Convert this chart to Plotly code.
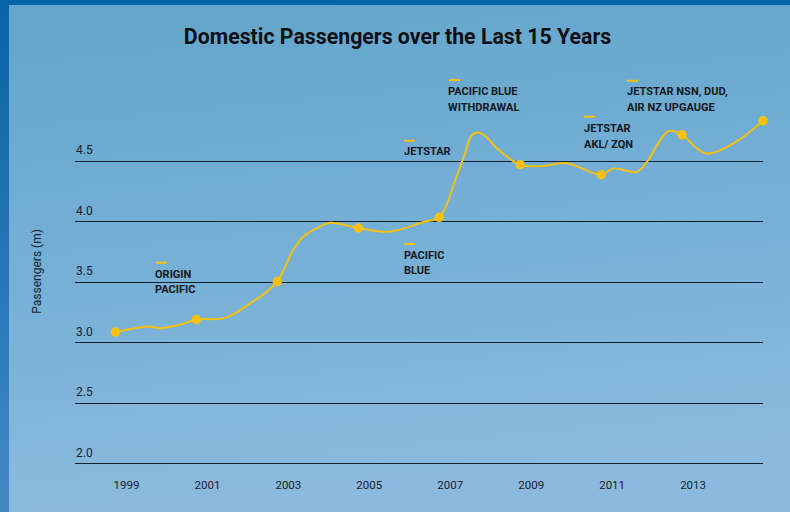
import base64
import plotly.graph_objects as go

# ---------------- data ----------------
marker_years = [1999, 2001, 2003, 2005, 2007, 2009, 2011, 2013, 2015]
marker_values = [3.09, 3.193, 3.507, 3.95, 4.038, 4.473, 4.39, 4.72, 4.836]

curve_years = [1999.0, 1999.85, 2000.1, 2000.59, 2001.0, 2001.71, 2002.32, 2002.74,
               2003.0, 2003.23, 2003.39, 2003.64, 2003.97, 2004.3, 2005.0, 2005.78,
               2006.61, 2007.0, 2007.43, 2007.64, 2007.8, 2007.97, 2008.17, 2008.42,
               2009.0, 2009.57, 2010.15, 2011.0, 2011.3, 2011.88, 2012.14, 2012.66,
               2013.0, 2013.57, 2014.27, 2015.0]
curve_values = [3.09, 3.135, 3.122, 3.15, 3.193, 3.207, 3.325, 3.424,
                3.507, 3.658, 3.768, 3.878, 3.947, 3.993, 3.95, 3.92,
                4.0, 4.038, 4.377, 4.57, 4.715, 4.74, 4.70, 4.61,
                4.473, 4.463, 4.486, 4.39, 4.442, 4.414, 4.5, 4.75,
                4.72, 4.567, 4.649, 4.836]

x_tick_years = [1999, 2001, 2003, 2005, 2007, 2009, 2011, 2013]
x_tick_labels = ["1999", "2001", "2003", "2005", "2007", "2009", "2011", "2013"]
y_ticks = [2.0, 2.5, 3.0, 3.5, 4.0, 4.5]
y_tick_labels = ["2.0", "2.5", "3.0", "3.5", "4.0", "4.5"]

event_texts = ["ORIGIN<br>PACIFIC", "PACIFIC<br>BLUE", "JETSTAR",
               "PACIFIC BLUE<br>WITHDRAWAL", "JETSTAR<br>AKL/ ZQN",
               "JETSTAR NSN, DUD,<br>AIR NZ UPGAUGE"]
event_x = [2000.0, 2006.14, 2006.13, 2007.24, 2010.58, 2011.64]
event_y = [3.628, 3.785, 4.647, 5.140, 4.832, 5.140]
event_dash_y = [3.663, 3.818, 4.671, 5.173, 4.870, 5.167]

# ---------------- style ----------------
YELLOW = "#f8c10e"
FONT = "Roboto, Liberation Sans Narrow, Arial Narrow, sans-serif"
W, H = 790, 512
L, R, T, B = 75, 27, 71, 42
PW, PH = W - L - R, H - T - B
Y_LO = 1.95
Y_HI = Y_LO + PH / 121.0
LINE_GAP = 15.5

svg = f"""<svg xmlns='http://www.w3.org/2000/svg' width='{W}' height='{H}' viewBox='0 0 {W} {H}' preserveAspectRatio='none'>
<defs>
<linearGradient id='p' x1='0' y1='0' x2='0.15' y2='1'>
<stop offset='0' stop-color='#64a5cc'/><stop offset='0.5' stop-color='#74afd6'/><stop offset='1' stop-color='#8bbade'/></linearGradient>
<linearGradient id='s' x1='0' y1='0' x2='0' y2='1'>
<stop offset='0' stop-color='#0863a6'/><stop offset='1' stop-color='#4189c5'/></linearGradient>
</defs>
<rect x='0' y='0' width='{W}' height='{H}' fill='url(#s)'/>
<rect x='0' y='0' width='{W}' height='5' fill='#0466a8'/>
<rect x='9' y='5' width='{W-9}' height='{H-5}' fill='url(#p)'/>
</svg>"""
src = "data:image/svg+xml;base64," + base64.b64encode(svg.encode()).decode()

fig = go.Figure()
fig.add_trace(go.Scatter(x=curve_years, y=curve_values, mode="lines",
                         line=dict(color=YELLOW, width=2, shape="spline", smoothing=1.0),
                         hoverinfo="skip", cliponaxis=False, showlegend=False))
fig.add_trace(go.Scatter(x=marker_years, y=marker_values, mode="markers",
                         marker=dict(color=YELLOW, size=9.5), cliponaxis=False,
                         showlegend=False))

annotations = []
for v, t in zip(y_ticks, y_tick_labels):
    annotations.append(dict(xref="paper", x=0, xanchor="left", yref="y", y=v,
                            yanchor="bottom", yshift=3, text=t, showarrow=False,
                            borderpad=0,
                            font=dict(family=FONT, size=12, color="#1b2228")))
annotations.append(dict(xref="paper", x=(36.7 - L) / PW, yref="paper",
                        y=(H - B - 271) / PH, text="Passengers (m)", textangle=-90,
                        showarrow=False, xanchor="center", yanchor="middle",
                        font=dict(family=FONT, size=12, color="#1b2228")))
shapes = []
for tx, ex, ey, dy in zip(event_texts, event_x, event_y, event_dash_y):
    for i, line in enumerate(tx.split("<br>")):
        annotations.append(dict(xref="x", x=ex, yref="y", y=ey, xanchor="left",
                                yanchor="top", align="left", text="<b>" + line + "</b>",
                                showarrow=False, borderpad=0, xshift=-1.5,
                                yshift=-LINE_GAP * i,
                                font=dict(family=FONT, size=11, color="#15191d")))
    shapes.append(dict(type="line", xref="x", xsizemode="pixel", xanchor=ex,
                       x0=0, x1=11, yref="y", y0=dy, y1=dy,
                       line=dict(color=YELLOW, width=2)))

fig.update_layout(
    width=W, height=H,
    margin=dict(l=L, r=R, t=T, b=B, pad=0),
    paper_bgcolor="#0466a8", plot_bgcolor="rgba(0,0,0,0)",
    title=dict(text="<b>Domestic Passengers over the Last 15 Years</b>",
               xref="container", x=397.5 / W, xanchor="center",
               yref="container", y=1 - 36.5 / H, yanchor="middle",
               font=dict(family=FONT, size=21.3, color="#0d0f12")),
    images=[dict(source=src, xref="paper", yref="paper", x=-L / PW, y=(H - B) / PH,
                 sizex=W / PW, sizey=H / PH, sizing="stretch", xanchor="left",
                 yanchor="top", layer="below")],
    annotations=annotations, shapes=shapes,
    showlegend=False,
)
fig.update_xaxes(range=[1998, 2015], tickvals=x_tick_years, ticktext=x_tick_labels,
                 showgrid=False, zeroline=False, showline=False, ticks="",
                 ticklabelshift=11, ticklabelstandoff=6,
                 tickfont=dict(family=FONT, size=11.5, color="#1b2228"))
fig.update_yaxes(range=[Y_LO, Y_HI], tickvals=y_ticks, showticklabels=False,
                 showgrid=True, gridcolor="#14202a", gridwidth=1.2, zeroline=False,
                 showline=False, ticks="")

fig.write_html("out.html")
